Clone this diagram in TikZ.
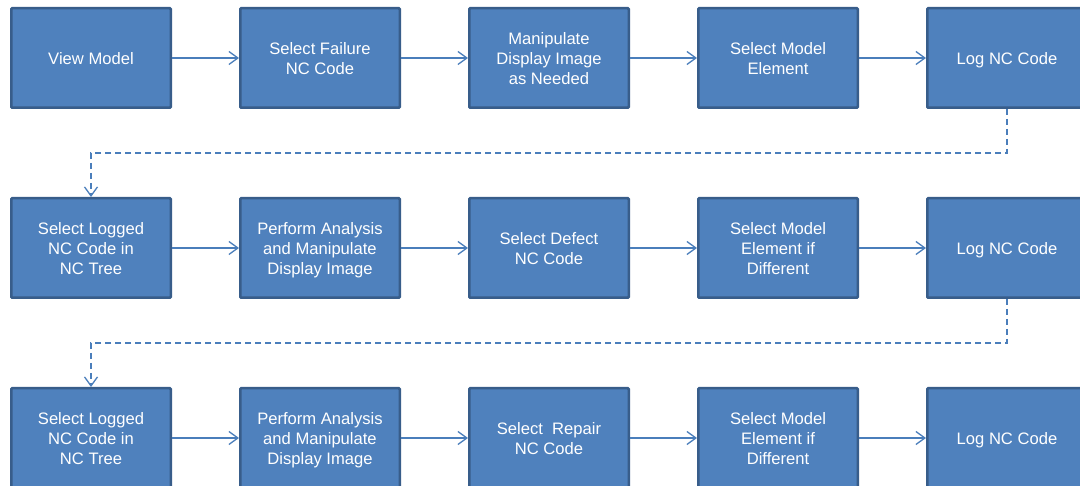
\documentclass[tikz,border=0pt]{standalone}
\usepackage{fontspec}
\setmainfont{Liberation Sans}
\usetikzlibrary{arrows.meta}
\definecolor{boxfill}{HTML}{4F81BD}
\definecolor{boxborder}{HTML}{385D8A}
\definecolor{linecol}{HTML}{4A7EBB}
\newcommand\bxt[1]{\raisebox{-3pt}[\height][\depth]{\begin{tabular}{@{}c@{}}#1\end{tabular}}}
\begin{document}
\begin{tikzpicture}[x=1pt,y=-1pt,
  box/.style={draw=boxborder, line width=2.5pt, fill=boxfill, minimum width=159.5pt, minimum height=99.5pt,
    text=white, font=\fontsize{16.6}{20}\selectfont, inner sep=0pt, rounded corners=1pt},
  flow/.style={draw=linecol, line width=1.3pt, -{Straight Barb[length=9pt,width=13pt,line width=1.3pt]}},
  dflow/.style={flow, dash pattern=on 6pt off 4pt}
]
\clip (0,0) rectangle (1080,486);
\fill[white] (0,0) rectangle (1080,486);
% row 1
\node[box] (a1) at (91,58) {\bxt{View Model}};
\node[box] (a2) at (320,58) {\bxt{Select Failure\\NC Code}};
\node[box] (a3) at (549,58) {\bxt{Manipulate\\Display Image\\as Needed}};
\node[box] (a4) at (778,58) {\bxt{Select Model\\Element}};
\node[box] (a5) at (1007,58) {\bxt{Log NC Code}};
% row 2
\node[box] (b1) at (91,248) {\bxt{Select Logged\\NC Code in\\NC Tree}};
\node[box] (b2) at (320,248) {\bxt{Perform Analysis\\and Manipulate\\Display Image}};
\node[box] (b3) at (549,248) {\bxt{Select Defect\\NC Code}};
\node[box] (b4) at (778,248) {\bxt{Select Model\\Element if\\Different}};
\node[box] (b5) at (1007,248) {\bxt{Log NC Code}};
% row 3
\node[box] (c1) at (91,438) {\bxt{Select Logged\\NC Code in\\NC Tree}};
\node[box] (c2) at (320,438) {\bxt{Perform Analysis\\and Manipulate\\Display Image}};
\node[box] (c3) at (549,438) {\bxt{Select\ \ Repair\\NC Code}};
\node[box] (c4) at (778,438) {\bxt{Select Model\\Element if\\Different}};
\node[box] (c5) at (1007,438) {\bxt{Log NC Code}};
% connectors
\foreach \r in {a,b,c}{
  \draw[flow] (\r1) -- (\r2);
  \draw[flow] (\r2) -- (\r3);
  \draw[flow] (\r3) -- (\r4);
  \draw[flow] (\r4) -- (\r5);
}
\coordinate (t1) at (91,153);
\coordinate (t2) at (91,343);
\draw[dflow] (a5.south) |- (t1) -- (b1.north);
\draw[dflow] (b5.south) |- (t2) -- (c1.north);
\end{tikzpicture}
\end{document}
